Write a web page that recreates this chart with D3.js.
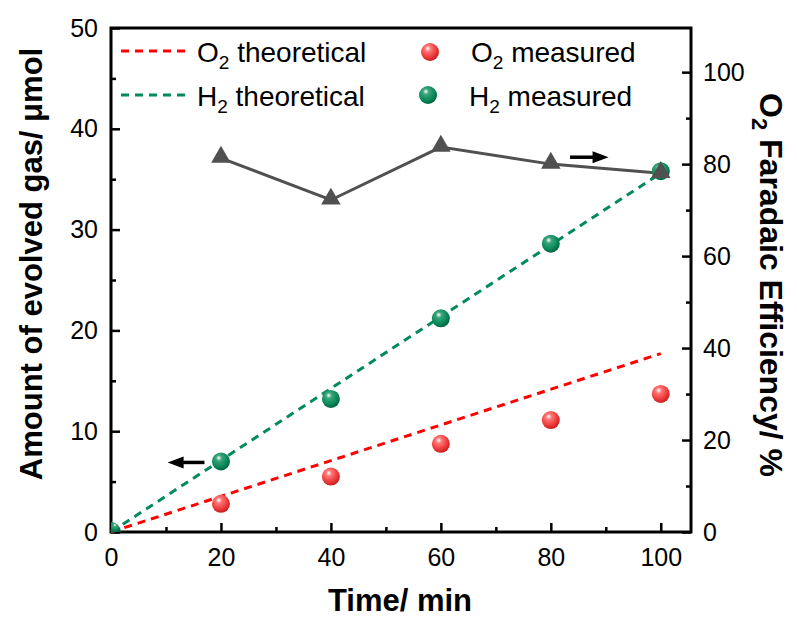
<!DOCTYPE html>
<html>
<head>
<meta charset="utf-8">
<script src="https://cdn.jsdelivr.net/npm/d3@7"></script>
<style>
  body { margin: 0; background: #fff; }
  svg text { font-family: Arial, "Liberation Sans", sans-serif; }
</style>
</head>
<body>
<div class="grafico"></div>
<script>
/*Datos*/
const times = [20, 40, 60, 80, 100];
const o2Measured = [2.8, 5.5, 8.75, 11.1, 13.7];
const h2Measured = [7.0, 13.2, 21.2, 28.6, 35.8];
const o2Theoretical = [[0, 0], [100, 17.7]];
const h2Theoretical = [[0, 0], [100, 35.6]];
const faradaicEff = [81.3, 72.2, 83.7, 80.0, 78.0];
const xTicks = [0, 20, 40, 60, 80, 100];
const yLeftTicks = [0, 10, 20, 30, 40, 50];
const yRightTicks = [0, 20, 40, 60, 80, 100];

const w = 797, h = 620;
const m = { left: 111, right: 106, top: 28, bottom: 88 };

const svg = d3.select('.grafico').append('svg')
  .attr('width', w).attr('height', h);

const defs = svg.append('defs');
const grad = (id, light, base, dark) => {
  const g = defs.append('radialGradient').attr('id', id)
    .attr('cx', '40%').attr('cy', '35%').attr('r', '65%')
    .attr('fx', '38%').attr('fy', '30%');
  g.append('stop').attr('offset', '0%').attr('stop-color', '#ffffff');
  g.append('stop').attr('offset', '25%').attr('stop-color', light);
  g.append('stop').attr('offset', '70%').attr('stop-color', base);
  g.append('stop').attr('offset', '100%').attr('stop-color', dark);
};
grad('gRed', '#f77', '#ee3b3b', '#c82020');
grad('gGreen', '#3aa57a', '#0a8a5a', '#006640');

/*Escalas*/
const x = d3.scaleLinear().domain([0, 105.5]).range([m.left, w - m.right]);
const yL = d3.scaleLinear().domain([0, 50]).range([h - m.bottom, m.top]);
const yR = d3.scaleLinear().domain([0, 109.6]).range([h - m.bottom, m.top]);

/*Ejes*/
const styleAxis = g => {
  g.selectAll('.domain').remove();
  g.selectAll('line').attr('stroke', '#000').attr('stroke-width', 2.5);
  g.selectAll('text').attr('font-size', 25).attr('fill', '#000');
};

svg.append('g').attr('transform', `translate(0,${h - m.bottom})`)
  .call(d3.axisBottom(x).tickValues(d3.range(10, 101, 20)).tickSize(-5).tickFormat(''))
  .call(styleAxis);
svg.append('g').attr('transform', `translate(0,${h - m.bottom})`)
  .call(d3.axisBottom(x).tickValues(xTicks).tickSize(-9).tickPadding(16).tickFormat(d3.format('d')))
  .call(styleAxis);

svg.append('g').attr('transform', `translate(${m.left},0)`)
  .call(d3.axisLeft(yL).tickValues(d3.range(5, 50, 10)).tickSize(-5).tickFormat(''))
  .call(styleAxis);
svg.append('g').attr('transform', `translate(${m.left},0)`)
  .call(d3.axisLeft(yL).tickValues(yLeftTicks).tickSize(-9).tickPadding(13))
  .call(styleAxis);

svg.append('g').attr('transform', `translate(${w - m.right},0)`)
  .call(d3.axisRight(yR).tickValues(d3.range(10, 110, 20)).tickSize(-5).tickFormat(''))
  .call(styleAxis);
svg.append('g').attr('transform', `translate(${w - m.right},0)`)
  .call(d3.axisRight(yR).tickValues(yRightTicks).tickSize(-9).tickPadding(12))
  .call(styleAxis);

/*Marco*/
svg.append('rect')
  .attr('x', m.left).attr('y', m.top)
  .attr('width', w - m.left - m.right).attr('height', h - m.top - m.bottom)
  .attr('fill', 'none').attr('stroke', '#000').attr('stroke-width', 3);

/*Lineas teoricas*/
const lineL = d3.line().x(d => x(d[0])).y(d => yL(d[1]));
svg.append('path').attr('d', lineL(o2Theoretical))
  .attr('fill', 'none').attr('stroke', '#ff0000').attr('stroke-width', 3).attr('stroke-dasharray', '8,6');
svg.append('path').attr('d', lineL(h2Theoretical))
  .attr('fill', 'none').attr('stroke', '#008a5e').attr('stroke-width', 3).attr('stroke-dasharray', '8,6');

/*Eficiencia faradaica*/
const lineR = d3.line().x((d, i) => x(times[i])).y(d => yR(d));
svg.append('path').attr('d', lineR(faradaicEff))
  .attr('fill', 'none').attr('stroke', '#505050').attr('stroke-width', 3);

/*Puntos medidos*/
svg.append('path')
  .attr('d', `M${x(0)},${yL(0) - 10} A10,10 0 0,1 ${x(0) + 10},${yL(0)} L${x(0)},${yL(0)} Z`)
  .attr('fill', 'url(#gGreen)');
svg.selectAll('.o2').data(o2Measured).enter().append('circle')
  .attr('cx', (d, i) => x(times[i])).attr('cy', d => yL(d)).attr('r', 9)
  .attr('fill', 'url(#gRed)');
svg.selectAll('.h2').data(h2Measured).enter().append('circle')
  .attr('cx', (d, i) => x(times[i])).attr('cy', d => yL(d)).attr('r', 9)
  .attr('fill', 'url(#gGreen)');

const tri = d3.symbol().type(d3.symbolTriangle).size(165);
svg.selectAll('.fe').data(faradaicEff).enter().append('path')
  .attr('d', tri)
  .attr('transform', (d, i) => `translate(${x(times[i])},${yR(d) - 1})`)
  .attr('fill', '#505050');

/*Flechas*/
const arrow = (x1, x2, yy) => {
  const dir = Math.sign(x2 - x1);
  svg.append('line').attr('x1', x1).attr('x2', x2 - dir * 10).attr('y1', yy).attr('y2', yy)
    .attr('stroke', '#000').attr('stroke-width', 3.5);
  svg.append('path')
    .attr('d', `M${x2},${yy} L${x2 - dir * 16},${yy - 6} L${x2 - dir * 16},${yy + 6} Z`)
    .attr('fill', '#000');
};
arrow(x(17), x(10.3), yL(6.9));
arrow(x(83.5), x(90.5), yR(81.5));

/*Leyenda*/
const legend = svg.append('g');
const legItem = (lx, ly, sub) => {
  const t = legend.append('text').attr('x', lx).attr('y', ly + 11).attr('font-size', 28);
  t.append('tspan').text(sub[0]);
  t.append('tspan').attr('font-size', 19).attr('dy', 7).text('2');
  t.append('tspan').attr('dy', -7).text(sub[1]);
};
legend.append('line').attr('x1', 121).attr('x2', 190).attr('y1', 51).attr('y2', 51)
  .attr('stroke', '#ff0000').attr('stroke-width', 3).attr('stroke-dasharray', '8,6');
legend.append('line').attr('x1', 121).attr('x2', 190).attr('y1', 95).attr('y2', 95)
  .attr('stroke', '#008a5e').attr('stroke-width', 3).attr('stroke-dasharray', '8,6');
legItem(197, 51, ['O', ' theoretical']);
legItem(197, 95, ['H', ' theoretical']);
legend.append('circle').attr('cx', 430).attr('cy', 52).attr('r', 9).attr('fill', 'url(#gRed)');
legend.append('circle').attr('cx', 428).attr('cy', 95).attr('r', 9).attr('fill', 'url(#gGreen)');
legItem(471, 51, ['O', ' measured']);
legItem(469, 95, ['H', ' measured']);

/*Titulos de ejes*/
svg.append('text')
  .attr('x', 400).attr('y', 611)
  .attr('text-anchor', 'middle').attr('font-size', 31).attr('font-weight', 'bold')
  .text('Time/ min');

svg.append('text')
  .attr('transform', `translate(42,264) rotate(-90)`)
  .attr('text-anchor', 'middle').attr('font-size', 31).attr('font-weight', 'bold')
  .text('Amount of evolved gas/ μmol');

const rt = svg.append('text')
  .attr('transform', `translate(760,285) rotate(90)`)
  .attr('text-anchor', 'middle').attr('font-size', 32).attr('font-weight', 'bold');
rt.append('tspan').text('O');
rt.append('tspan').attr('font-size', 22).attr('dy', 8).text('2');
rt.append('tspan').attr('dy', -8).text(' Faradaic Efficiency/ %');
</script>
</body>
</html>
